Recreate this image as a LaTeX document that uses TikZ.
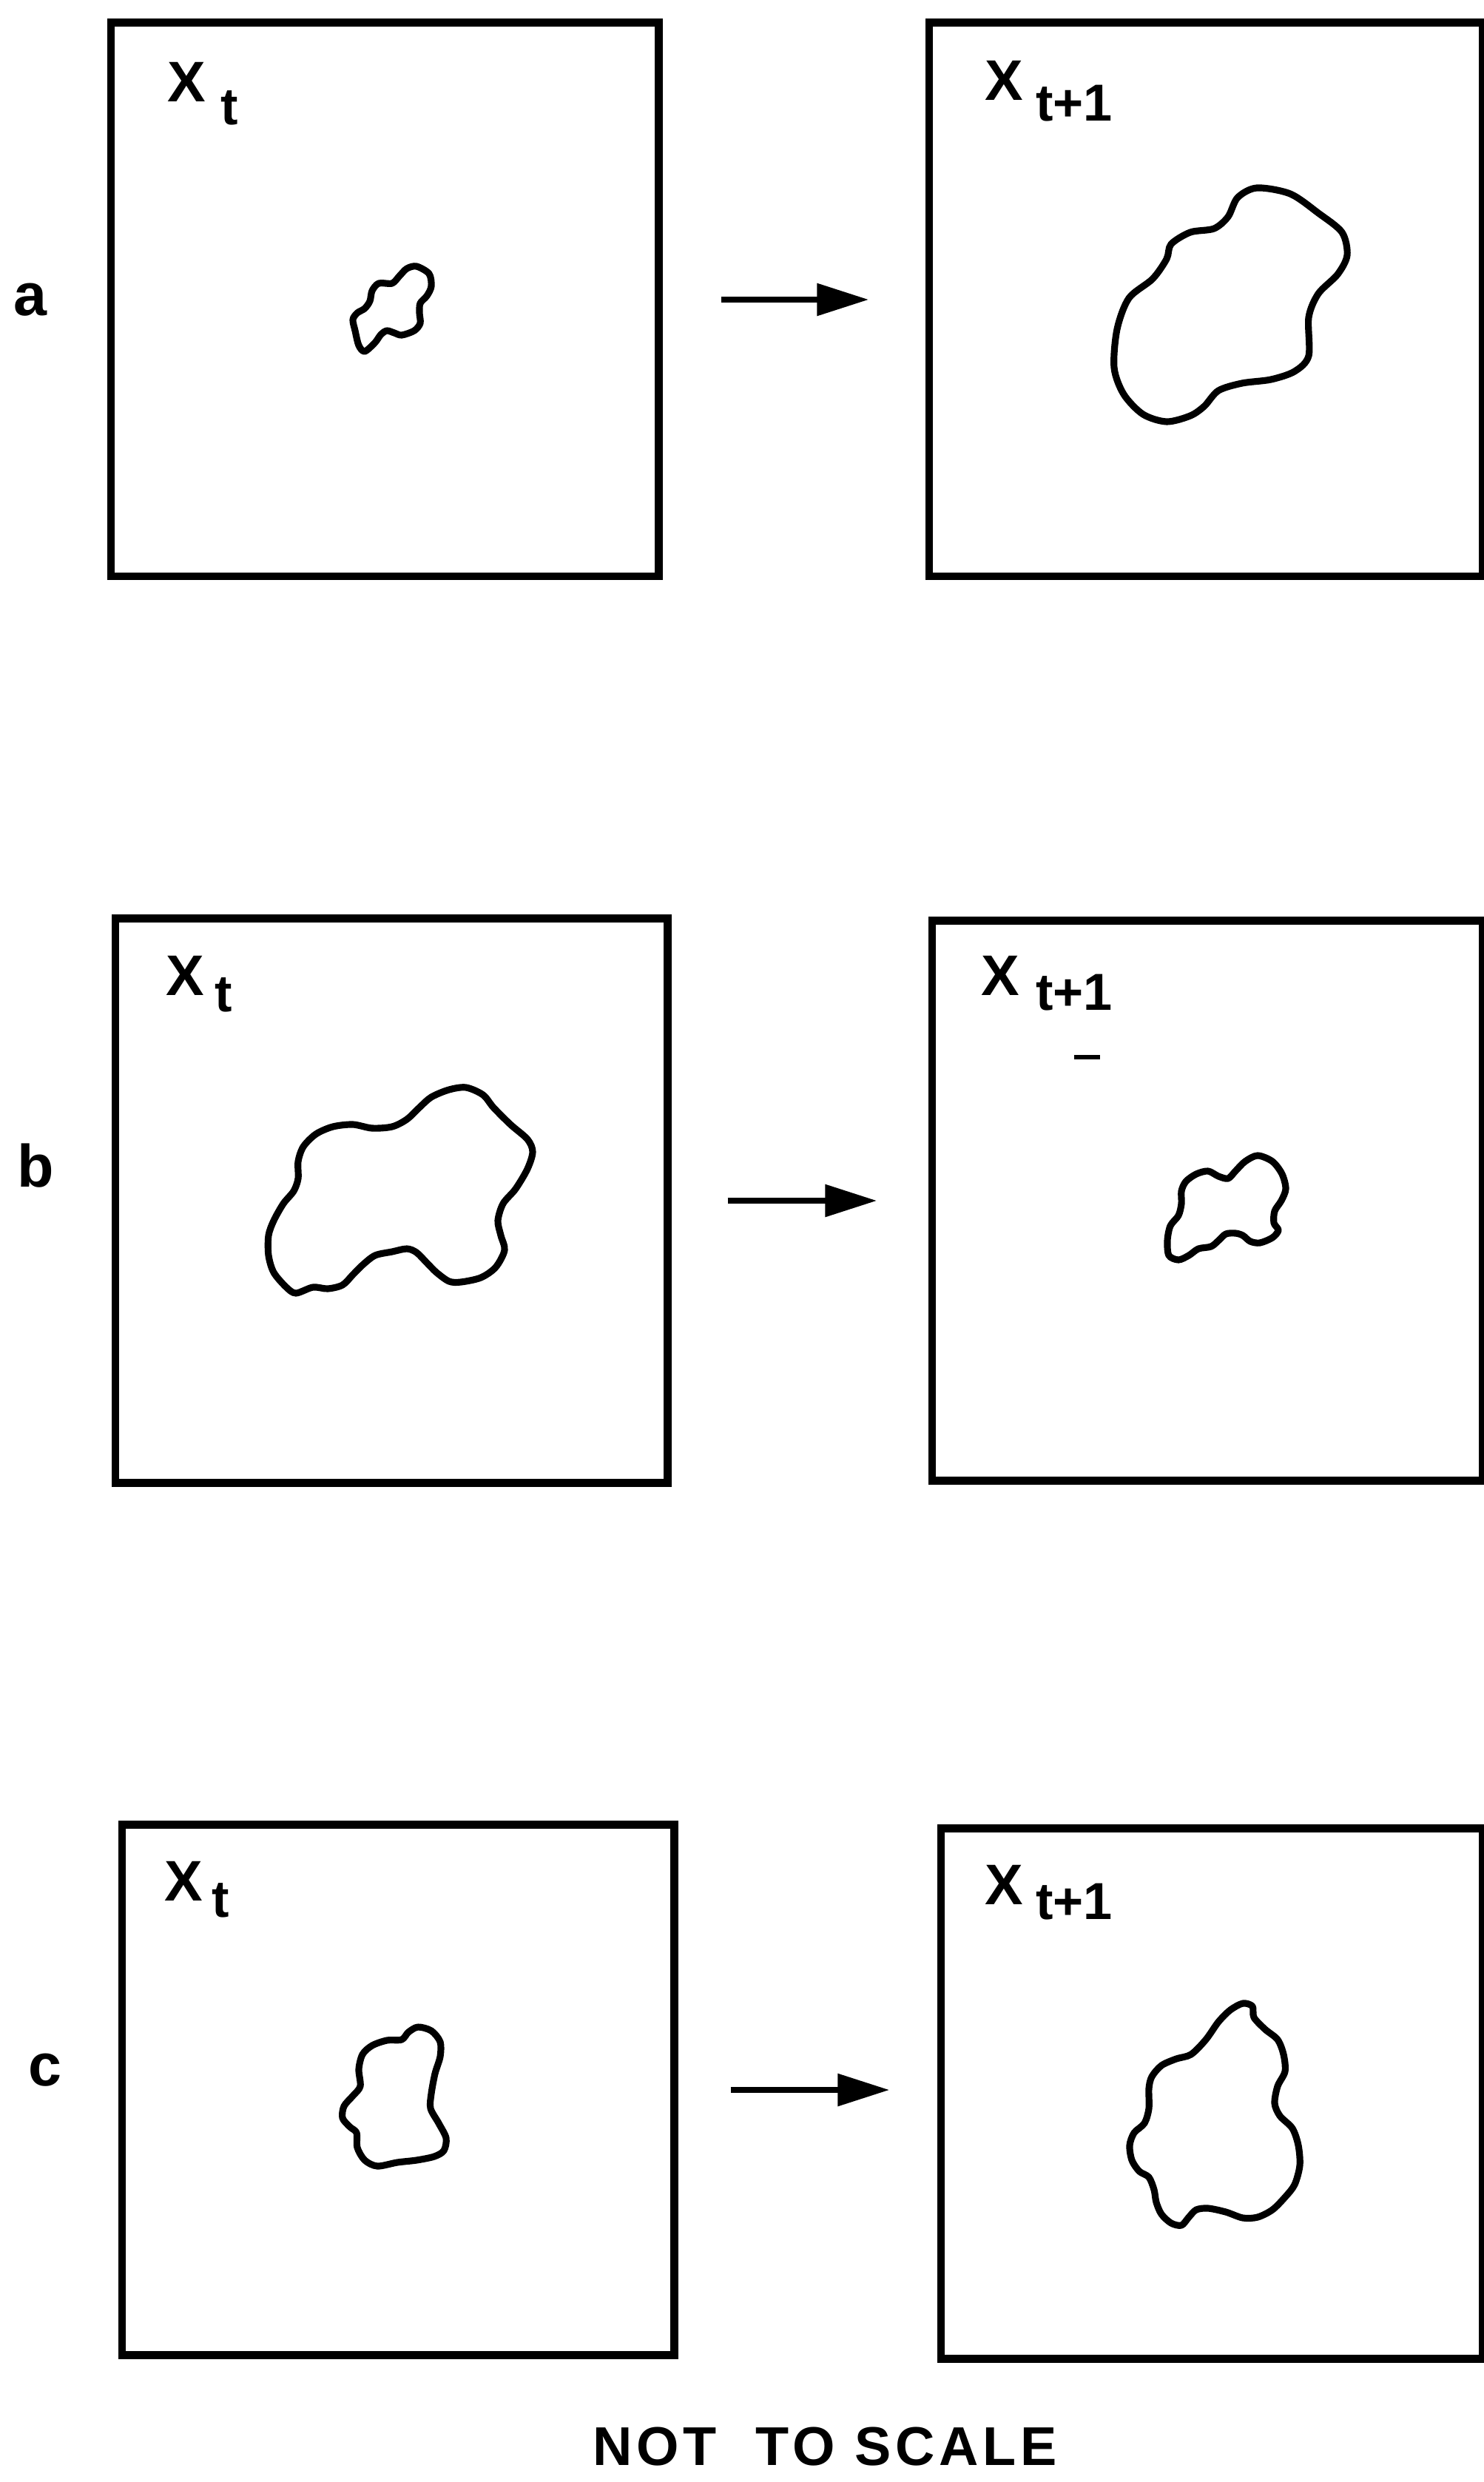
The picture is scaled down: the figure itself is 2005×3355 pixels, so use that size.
\documentclass[tikz,border=0pt]{standalone}
\usepackage{fontspec}
\setmainfont{Liberation Sans}
\usetikzlibrary{arrows.meta}

\begin{document}
\begin{tikzpicture}[x=0.01cm,y=-0.01cm,
    panel/.style={draw,line width=3pt,inner sep=0pt},
    blob/.style={line width=2.6pt,line join=round},
    flow/.style={-{Triangle[length=7mm,width=4.2mm]},line width=2.5pt},
    rowlabel/.style={font=\fontsize{23}{27}\selectfont\bfseries,inner sep=0pt},
    var/.style={font=\fontsize{22}{26}\selectfont\bfseries,inner sep=0pt},
    sub/.style={font=\fontsize{20}{24}\selectfont\bfseries,inner sep=0pt}]
    \useasboundingbox (0,0) rectangle (2005,3355);

    % Row a
    \node[rowlabel] (la) at (41,405) {a};
    \node[panel,minimum width=7.40cm,minimum height=7.48cm] (pa1) at (520,405) {};
    \node[panel,minimum width=7.48cm,minimum height=7.48cm] (pa2) at (1630,405) {};
    \node[var] (xa1) at (252,111) {X};
    \node[sub] (ta1) at (310,146) {t};
    \node[var] (xa2) at (1357,109) {X};
    \node[sub] (ta2) at (1452,140) {t+1};
    \draw[flow,shorten <=7.9mm,shorten >=7.6mm] (pa1.east) -- (pa1.east -| pa2.west);
    \draw[blob] plot[smooth cycle] coordinates {(563,360) (580,370) (583,387) (577,400)
        (568,410) (567,423) (568,437) (560,447) (543,453) (533,450) (523,447) (515,452)
        (507,463) (493,475) (485,467) (480,447) (477,432) (483,423) (493,417) (500,407)
        (503,393) (512,383) (530,383) (540,373) (550,363)};
    \draw[blob] plot[smooth cycle] coordinates {(1699,254) (1744,262) (1782,288) (1814,314)
        (1821,345) (1808,371) (1782,397) (1769,429) (1769,481) (1750,502) (1718,513)
        (1679,518) (1647,528) (1628,549) (1609,562) (1577,570) (1545,560) (1519,533)
        (1506,497) (1510,445) (1526,403) (1558,377) (1577,350) (1583,330) (1609,314)
        (1641,309) (1660,293) (1673,267)};

    % Row b
    \node[rowlabel] (lb) at (48,1576) {b};
    \node[panel,minimum width=7.46cm,minimum height=7.63cm] (pb1) at (529,1623) {};
    \node[panel,minimum width=7.44cm,minimum height=7.57cm] (pb2) at (1632,1623) {};
    \node[var] (xb1) at (250,1319) {X};
    \node[sub] (tb1) at (302,1345) {t};
    \node[var] (xb2) at (1352,1319) {X};
    \node[sub] (tb2) at (1452,1342) {t+1};
    \draw[line width=1.6pt] (1452,1429) -- (1487,1429);
    \draw[flow,shorten <=7.6mm,shorten >=6.9mm] (pb1.east) -- (pb1.east -| pb2.west);
    \draw[blob] plot[smooth cycle] coordinates {(630,1470) (653,1480) (667,1497) (690,1520)
        (713,1540) (720,1557) (713,1580) (697,1607) (680,1627) (673,1650) (677,1670)
        (682,1690) (670,1713) (650,1727) (623,1733) (607,1732) (590,1720) (577,1707)
        (563,1693) (550,1688) (530,1692) (507,1697) (490,1710) (477,1723) (463,1737)
        (443,1742) (423,1740) (400,1748) (387,1740) (370,1720) (363,1697) (363,1670)
        (370,1650) (383,1627) (397,1610) (403,1593) (403,1570) (410,1550) (427,1533)
        (450,1523) (477,1520) (503,1525) (530,1523) (550,1513) (567,1497) (583,1483)
        (607,1473)};
    \draw[blob] plot[smooth cycle] coordinates {(1700,1562) (1720,1570) (1733,1587)
        (1738,1607) (1732,1623) (1723,1637) (1722,1653) (1728,1663) (1720,1673)
        (1703,1680) (1690,1678) (1680,1670) (1670,1667) (1657,1668) (1647,1677)
        (1637,1685) (1620,1688) (1607,1697) (1593,1703) (1580,1697) (1578,1677)
        (1582,1657) (1593,1643) (1597,1627) (1597,1610) (1603,1597) (1617,1587)
        (1633,1583) (1647,1590) (1660,1593) (1670,1583) (1683,1570)};

    % Row c
    \node[rowlabel] (lc) at (61,2798) {c};
    \node[panel,minimum width=7.46cm,minimum height=7.17cm] (pc1) at (538,2825) {};
    \node[panel,minimum width=7.32cm,minimum height=7.17cm] (pc2) at (1638,2830) {};
    \node[var] (xc1) at (248,2543) {X};
    \node[sub] (tc1) at (298,2569) {t};
    \node[var] (xc2) at (1357,2548) {X};
    \node[sub] (tc2) at (1452,2571) {t+1};
    \draw[flow,shorten <=7.1mm,shorten >=6.4mm] (pc1.east) -- (pc1.east -| pc2.west);
    \draw[blob] plot[smooth cycle] coordinates {(565,2740) (583,2745) (595,2760)
        (595,2780) (588,2803) (583,2830) (582,2850) (593,2870) (603,2890) (600,2907)
        (587,2915) (563,2920) (537,2923) (510,2928) (493,2920) (483,2903) (482,2883)
        (473,2875) (463,2863) (465,2847) (477,2833) (487,2820) (485,2797) (490,2777)
        (503,2765) (523,2758) (543,2757) (552,2747)};
    \draw[blob] plot[smooth cycle] coordinates {(1680,2708) (1693,2712) (1695,2727)
        (1710,2743) (1727,2757) (1735,2777) (1737,2800) (1727,2820) (1723,2843)
        (1730,2860) (1747,2877) (1755,2900) (1757,2927) (1750,2953) (1737,2970)
        (1720,2987) (1700,2997) (1680,2998) (1657,2990) (1633,2985) (1617,2987)
        (1607,2997) (1597,3008) (1583,3005) (1570,2993) (1563,2977) (1560,2960)
        (1553,2943) (1540,2935) (1530,2920) (1527,2900) (1533,2883) (1547,2870)
        (1553,2850) (1553,2823) (1557,2807) (1570,2792) (1590,2783) (1610,2777)
        (1630,2757) (1647,2733) (1663,2717)};

    % Footer
    \node[font=\fontsize{21}{25}\selectfont\bfseries\addfontfeature{LetterSpace=8}] (note) at (1115,3307) {NOT\ \ TO SCALE};
\end{tikzpicture}
\end{document}
